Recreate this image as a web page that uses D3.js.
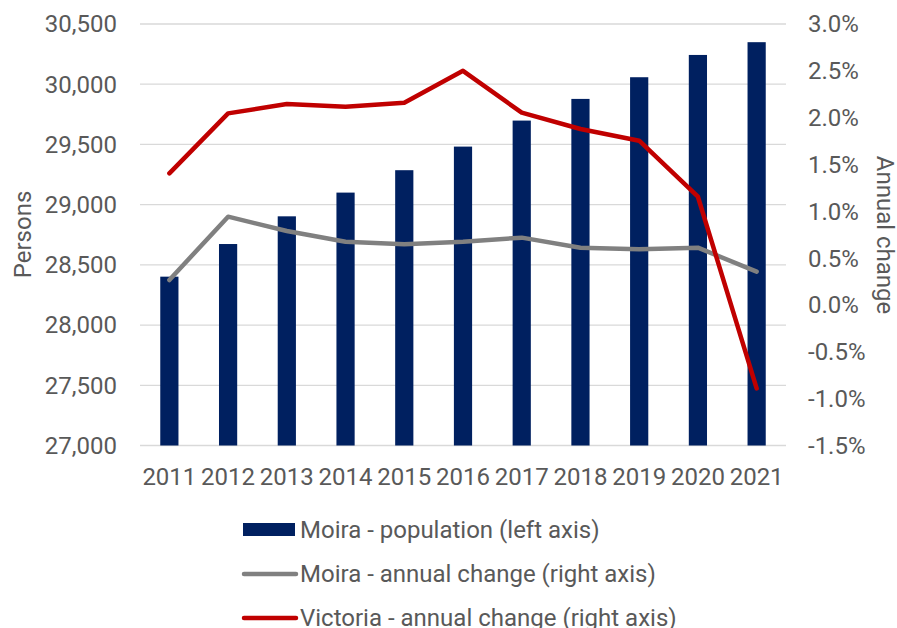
<!DOCTYPE html>
<html><head><meta charset="utf-8">
<script src="https://cdn.jsdelivr.net/npm/d3@7"></script>
<style>body{margin:0;background:#fff}svg{display:block;font-family:Roboto,sans-serif}</style>
</head><body><svg id="c" width="897" height="628"></svg>
<script>
const years = ["2011","2012","2013","2014","2015","2016","2017","2018","2019","2020","2021"];
const moiraPop = [28402,28673,28903,29100,29286,29482,29698,29878,30058,30243,30349];
const moiraChange = [0.267,0.943,0.79,0.676,0.648,0.676,0.719,0.612,0.594,0.612,0.356];
const vicChange = [1.406,2.046,2.146,2.117,2.16,2.50,2.053,1.879,1.754,1.156,-0.89];
const leftTicks = [27000,27500,28000,28500,29000,29500,30000,30500];
const rightTicks = [-1.5,-1.0,-0.5,0,0.5,1.0,1.5,2.0,2.5,3.0];
const legendLabels = ["Moira - population (left axis)","Moira - annual change (right axis)","Victoria - annual change (right axis)"];

const svg = d3.select("#c");
const L=140,R=786,T=24,B=445.5;
const x = d3.scaleBand().domain(years).range([L,R]).paddingInner(0.69).paddingOuter(0.345);
const yL = d3.scaleLinear().domain([27000,30500]).range([B,T]);
const yR = d3.scaleLinear().domain([-1.5,3.0]).range([B,T]);
const txt="#595959";
const fs=24;

svg.append("g").selectAll("line").data(leftTicks).join("line")
  .attr("x1",L).attr("x2",R).attr("y1",d=>yL(d)).attr("y2",d=>yL(d))
  .attr("stroke","#d9d9d9").attr("stroke-width",1.3);

svg.append("g").selectAll("rect").data(years).join("rect")
  .attr("x",d=>x(d)).attr("width",x.bandwidth())
  .attr("y",(d,i)=>yL(moiraPop[i])).attr("height",(d,i)=>B-yL(moiraPop[i]))
  .attr("fill","#002060");

const cx = d=>x(d)+x.bandwidth()/2;
const line = arr => d3.line().x((d,i)=>cx(years[i])).y(d=>yR(d))(arr);
svg.append("path").attr("d",line(moiraChange)).attr("fill","none").attr("stroke","#808080")
  .attr("stroke-width",4.5).attr("stroke-linejoin","round").attr("stroke-linecap","round");
svg.append("path").attr("d",line(vicChange)).attr("fill","none").attr("stroke","#C00000")
  .attr("stroke-width",4.5).attr("stroke-linejoin","round").attr("stroke-linecap","round");

const fmt = d3.format(",");
svg.append("g").selectAll("text").data(leftTicks).join("text")
  .attr("x",117).attr("y",d=>yL(d)).attr("dy","0.35em").attr("text-anchor","end")
  .attr("font-size",fs).attr("fill",txt).text(d=>fmt(d));
svg.append("g").selectAll("text").data(rightTicks).join("text")
  .attr("x",808).attr("y",d=>yR(d)).attr("dy","0.35em").attr("text-anchor","start")
  .attr("font-size",fs).attr("fill",txt).text(d=>d.toFixed(1)+"%");
svg.append("g").selectAll("text").data(years).join("text")
  .attr("x",d=>cx(d)).attr("y",477).attr("dy","0.35em").attr("text-anchor","middle")
  .attr("font-size",fs).attr("fill",txt).text(d=>d);

svg.append("text").attr("transform","translate(23,234.5) rotate(-90)").attr("dy","0.35em")
  .attr("text-anchor","middle").attr("font-size",fs).attr("fill",txt).text("Persons");
svg.append("text").attr("transform","translate(885,235) rotate(90)").attr("dy","0.35em")
  .attr("text-anchor","middle").attr("font-size",fs).attr("fill",txt).text("Annual change");

const lg = svg.append("g");
const ly=[529.5,574,618];
lg.append("rect").attr("x",243).attr("y",ly[0]-6.5).attr("width",52).attr("height",13).attr("fill","#002060");
lg.append("line").attr("x1",244).attr("x2",296).attr("y1",ly[1]).attr("y2",ly[1]).attr("stroke","#808080").attr("stroke-width",4.5).attr("stroke-linecap","round");
lg.append("line").attr("x1",244).attr("x2",296).attr("y1",ly[2]).attr("y2",ly[2]).attr("stroke","#C00000").attr("stroke-width",4.5).attr("stroke-linecap","round");
lg.selectAll("text").data(legendLabels).join("text")
  .attr("x",300).attr("y",(d,i)=>ly[i]).attr("dy","0.35em").attr("font-size",fs).attr("fill",txt).text(d=>d);
</script></body></html>
